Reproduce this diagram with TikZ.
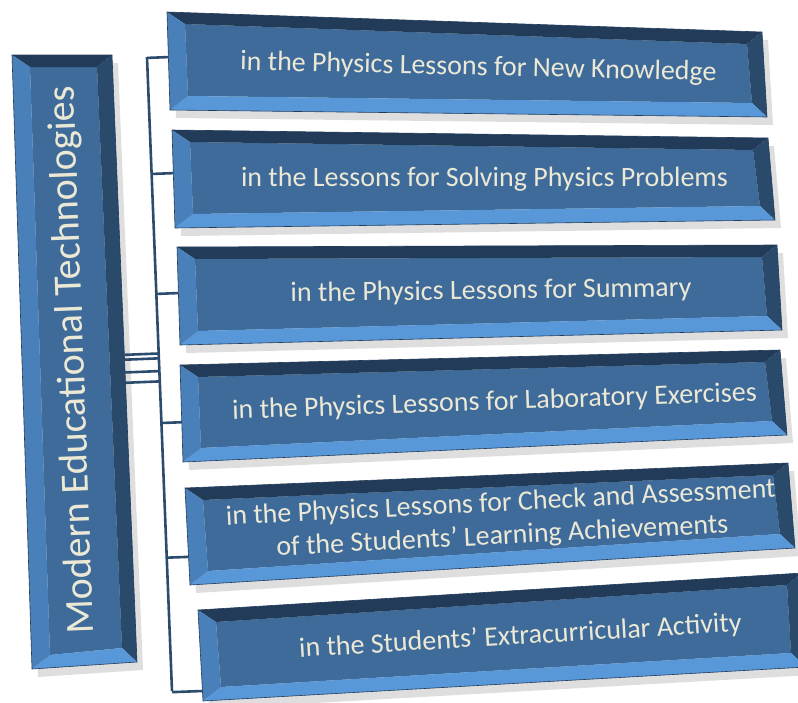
\documentclass[tikz,border=0pt]{standalone}
\usepackage{fontspec}
\setmainfont{Carlito}
\usetikzlibrary{calc}

\definecolor{faceblue}{RGB}{62,107,153}
\definecolor{topbevel}{RGB}{33,59,89}
\definecolor{rightbevel}{RGB}{42,74,108}
\definecolor{bottombevel}{RGB}{88,152,216}
\definecolor{leftbevel}{RGB}{74,128,185}
\definecolor{linkblue}{RGB}{44,76,110}
\definecolor{textcream}{RGB}{236,232,214}

\tikzset{
  boxtext/.style={text=textcream, font=\fontsize{28}{33}\selectfont, align=center},
  roottext/.style={text=textcream, font=\fontsize{40}{46}\selectfont},
  linker/.style={draw=linkblue, line width=2.6pt},
}

% bevelled box from its four outer corners: name, tl, tr, br, bl
\newcommand{\bevelbox}[5]{%
  \coordinate (#1-tl) at (#2);
  \coordinate (#1-tr) at (#3);
  \coordinate (#1-br) at (#4);
  \coordinate (#1-bl) at (#5);
  \coordinate (#1-itl) at ($(#1-tl)+(18,12)$);
  \coordinate (#1-itr) at ($(#1-tr)+(-15,12)$);
  \coordinate (#1-ibr) at ($(#1-br)+(-15,-14)$);
  \coordinate (#1-ibl) at ($(#1-bl)+(18,-14)$);
  \fill[black, opacity=.13] ($(#1-tl)+(6,8)$) -- ($(#1-tr)+(6,8)$)
    -- ($(#1-br)+(6,8)$) -- ($(#1-bl)+(6,8)$) -- cycle;
  \fill[faceblue] (#1-itl) -- (#1-itr) -- (#1-ibr) -- (#1-ibl) -- cycle;
  \fill[topbevel] (#1-tl) -- (#1-tr) -- (#1-itr) -- (#1-itl) -- cycle;
  \fill[rightbevel] (#1-tr) -- (#1-br) -- (#1-ibr) -- (#1-itr) -- cycle;
  \fill[bottombevel] (#1-br) -- (#1-bl) -- (#1-ibl) -- (#1-ibr) -- cycle;
  \fill[leftbevel] (#1-bl) -- (#1-tl) -- (#1-itl) -- (#1-ibl) -- cycle;
  \draw[topbevel, line width=.6pt] (#1-tl) -- (#1-tr) -- (#1-br) -- (#1-bl) -- cycle;
  \coordinate (#1-w) at ($(#1-tl)!.5!(#1-bl)$);
  \coordinate (#1-e) at ($(#1-tr)!.5!(#1-br)$);
}

\begin{document}
\begin{tikzpicture}[x=1pt, y=-1pt]
\useasboundingbox (0,0) rectangle (798,702);

% junction bar
\coordinate (bartop) at (147,57);
\coordinate (barbot) at (172,691);
\draw[linker] (bartop) -- (barbot);

% boxes
\bevelbox{root}{12,55}{112,55}{137,662}{32,669}
\bevelbox{k1}{167,12}{762,32}{767,117}{170,110}
\bevelbox{k2}{172,130}{768,138}{775,220}{175,228}
\bevelbox{k3}{177,247}{777,245}{782,330}{180,345}
\bevelbox{k4}{180,365}{780,350}{787,435}{183,462}
\bevelbox{k5}{185,488}{788,463}{795,548}{190,585}
\bevelbox{k6}{198,610}{802,573}{806,667}{203,701}

% texts
\path ($(root-bl)!.5!(root-br)$) -- ($(root-tl)!.5!(root-tr)$)
  node[midway, sloped, allow upside down, roottext] (root) {Modern Educational Technologies};
\path (k1-w) -- (k1-e) node[pos=.52, sloped, boxtext] (k1) {in the Physics Lessons for New Knowledge};
\path (k2-w) -- (k2-e) node[pos=.52, sloped, boxtext] (k2) {in the Lessons for Solving Physics Problems};
\path (k3-w) -- (k3-e) node[pos=.52, sloped, boxtext] (k3) {in the Physics Lessons for Summary};
\path (k4-w) -- (k4-e) node[pos=.52, sloped, boxtext] (k4) {in the Physics Lessons for Laboratory Exercises};
\path (k5-w) -- (k5-e) node[pos=.52, sloped, boxtext] (k5) {in the Physics Lessons for Check and Assessment\\of the Students’ Learning Achievements};
\path (k6-w) -- (k6-e) node[pos=.53, sloped, boxtext] (k6) {in the Students’ Extracurricular Activity};

% links from the bar to the boxes
\coordinate (k1-in) at ($(k1-tl)!.46!(k1-bl)$);
\coordinate (k2-in) at ($(k2-tl)!.44!(k2-bl)$);
\coordinate (k3-in) at ($(k3-tl)!.47!(k3-bl)$);
\coordinate (k4-in) at ($(k4-tl)!.59!(k4-bl)$);
\coordinate (k5-in) at ($(k5-tl)!.71!(k5-bl)$);
\coordinate (k6-in) at ($(k6-tl)!.89!(k6-bl)$);
\foreach \k in {k1,k2,k3,k4,k5,k6}
  \draw[linker] ($(bartop)!(\k-in)!(barbot)$) -- (\k-in);

% links from the root box to the bar
\foreach \t [count=\i] in {.494,.502,.523,.540} {
  \coordinate (root-out\i) at ($(root-tr)!\t!(root-br)$);
  \draw[linker] (root-out\i) -- ($(bartop)!(root-out\i)!(barbot)$);
}
\end{tikzpicture}
\end{document}
